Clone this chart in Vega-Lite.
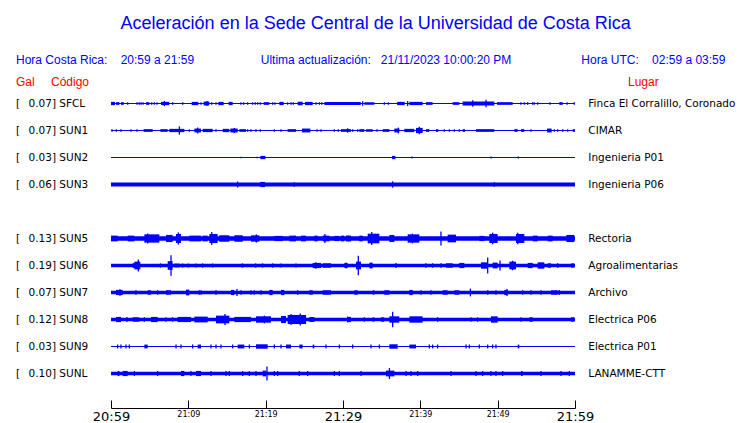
{
"$schema": "https://vega.github.io/schema/vega-lite/v6.json",
"padding": {"left": 15, "top": 14, "right": 0, "bottom": 0},
"background": "white",
"title": {
  "text": "Aceleración en la Sede Central de la Universidad de Costa Rica",
  "subtitle": "Hora Costa Rica:\u00a0\u00a0\u00a0\u00a020:59 a 21:59\u00a0\u00a0\u00a0\u00a0\u00a0\u00a0\u00a0\u00a0\u00a0\u00a0\u00a0\u00a0\u00a0\u00a0\u00a0\u00a0\u00a0\u00a0\u00a0\u00a0Ultima actualización:\u00a0\u00a0\u00a021/11/2023 10:00:20 PM\u00a0\u00a0\u00a0\u00a0\u00a0\u00a0\u00a0\u00a0\u00a0\u00a0\u00a0\u00a0\u00a0\u00a0\u00a0\u00a0\u00a0\u00a0\u00a0\u00a0\u00a0Hora UTC:\u00a0\u00a0\u00a0\u00a002:59 a 03:59\u00a0\u00a0\u00a0\u200b",
  "anchor": "middle",
  "frame": "bounds",
  "font": "Liberation Sans",
  "fontSize": 18,
  "fontWeight": "normal",
  "color": "#0000ff",
  "subtitleFont": "Liberation Sans",
  "subtitleFontSize": 12,
  "subtitleColor": "#0000ff",
  "subtitlePadding": 22,
  "offset": 10
},
"data": {"values": [
{"k":"s","c":"SFCL","gal":0.07,"place":"Finca El Corralillo, Coronado","lo":-0.6,"hi":0.6},
{"k":"s","c":"SUN1","gal":0.07,"place":"CIMAR","lo":-0.6,"hi":0.6},
{"k":"s","c":"SUN2","gal":0.03,"place":"Ingenieria P01","lo":-0.5,"hi":0.5},
{"k":"s","c":"SUN3","gal":0.06,"place":"Ingenieria P06","lo":-2,"hi":2},
{"k":"g","c":"SUN4"},
{"k":"s","c":"SUN5","gal":0.13,"place":"Rectoria","lo":-2.4,"hi":2.4},
{"k":"s","c":"SUN6","gal":0.19,"place":"Agroalimentarias","lo":-1.8,"hi":1.8},
{"k":"s","c":"SUN7","gal":0.07,"place":"Archivo","lo":-1.9,"hi":1.9},
{"k":"s","c":"SUN8","gal":0.12,"place":"Electrica P06","lo":-1.9,"hi":1.9},
{"k":"s","c":"SUN9","gal":0.03,"place":"Electrica P01","lo":-0.6,"hi":0.6},
{"k":"s","c":"SUNL","gal":0.10,"place":"LANAMME-CTT","lo":-1.9,"hi":1.9},

{"k":"b","c":"SFCL","t0":0,"t1":0.52,"lo":-1.7,"hi":1.7},
{"k":"b","c":"SFCL","t0":0.65,"t1":1.08,"lo":-1.4,"hi":1.4},
{"k":"b","c":"SFCL","t0":1.29,"t1":1.64,"lo":-1.4,"hi":1.4},
{"k":"b","c":"SFCL","t0":4.53,"t1":4.96,"lo":-1.4,"hi":1.4},
{"k":"b","c":"SFCL","t0":6.47,"t1":7.54,"lo":-1.7,"hi":1.7},
{"k":"b","c":"SFCL","t0":10.43,"t1":11.29,"lo":-1.7,"hi":1.7},
{"k":"b","c":"SFCL","t0":11.98,"t1":12.72,"lo":-2,"hi":2},
{"k":"b","c":"SFCL","t0":13.88,"t1":14.57,"lo":-1.7,"hi":1.7},
{"k":"b","c":"SFCL","t0":15.22,"t1":15.73,"lo":-1.7,"hi":1.7},
{"k":"b","c":"SFCL","t0":19.74,"t1":20.47,"lo":-1.4,"hi":1.4},
{"k":"b","c":"SFCL","t0":21.77,"t1":22.33,"lo":-1.7,"hi":1.7},
{"k":"b","c":"SFCL","t0":24.14,"t1":24.78,"lo":-1.7,"hi":1.7},
{"k":"b","c":"SFCL","t0":25.09,"t1":26.08,"lo":-1.7,"hi":1.7},
{"k":"b","c":"SFCL","t0":27.6,"t1":32.3,"lo":-1.6,"hi":1.6},
{"k":"b","c":"SFCL","t0":32.76,"t1":34.05,"lo":-1.4,"hi":1.4},
{"k":"b","c":"SFCL","t0":37.0,"t1":37.97,"lo":-1.7,"hi":1.7},
{"k":"b","c":"SFCL","t0":38.58,"t1":40.3,"lo":-1.7,"hi":1.7},
{"k":"b","c":"SFCL","t0":40.73,"t1":41.59,"lo":-1.4,"hi":1.4},
{"k":"b","c":"SFCL","t0":44.18,"t1":45.04,"lo":-1.4,"hi":1.4},
{"k":"b","c":"SFCL","t0":45.47,"t1":49.57,"lo":-2,"hi":2},
{"k":"b","c":"SFCL","t0":49.91,"t1":51.94,"lo":-1.4,"hi":1.4},
{"k":"b","c":"SFCL","t0":57.97,"t1":58.41,"lo":-1.4,"hi":1.4},
{"k":"r","c":"SFCL","t":2.16,"lo":-1.3,"hi":1.3},
{"k":"r","c":"SFCL","t":3.36,"lo":-1.3,"hi":1.3},
{"k":"r","c":"SFCL","t":3.66,"lo":-1.3,"hi":1.3},
{"k":"r","c":"SFCL","t":3.88,"lo":-1.3,"hi":1.3},
{"k":"r","c":"SFCL","t":4.14,"lo":-1.3,"hi":1.3},
{"k":"r","c":"SFCL","t":5.26,"lo":-1.3,"hi":1.3},
{"k":"r","c":"SFCL","t":5.6,"lo":-1.3,"hi":1.3},
{"k":"r","c":"SFCL","t":5.95,"lo":-1.3,"hi":1.3},
{"k":"r","c":"SFCL","t":6.9,"lo":-2.7,"hi":2.7},
{"k":"r","c":"SFCL","t":7.97,"lo":-1.3,"hi":1.3},
{"k":"r","c":"SFCL","t":9.27,"lo":-1.3,"hi":1.3},
{"k":"r","c":"SFCL","t":11.64,"lo":-1.3,"hi":1.3},
{"k":"r","c":"SFCL","t":12.41,"lo":-2.7,"hi":2.7},
{"k":"r","c":"SFCL","t":13.02,"lo":-1.3,"hi":1.3},
{"k":"r","c":"SFCL","t":13.58,"lo":-1.3,"hi":1.3},
{"k":"r","c":"SFCL","t":16.81,"lo":-1.3,"hi":1.3},
{"k":"r","c":"SFCL","t":17.16,"lo":-1.3,"hi":1.3},
{"k":"r","c":"SFCL","t":17.67,"lo":-1.3,"hi":1.3},
{"k":"r","c":"SFCL","t":18.32,"lo":-1.3,"hi":1.3},
{"k":"r","c":"SFCL","t":18.66,"lo":-1.3,"hi":1.3},
{"k":"r","c":"SFCL","t":18.97,"lo":-1.3,"hi":1.3},
{"k":"r","c":"SFCL","t":19.31,"lo":-1.3,"hi":1.3},
{"k":"r","c":"SFCL","t":20.9,"lo":-1.3,"hi":1.3},
{"k":"r","c":"SFCL","t":21.2,"lo":-1.3,"hi":1.3},
{"k":"r","c":"SFCL","t":22.84,"lo":-1.3,"hi":1.3},
{"k":"r","c":"SFCL","t":23.28,"lo":-1.3,"hi":1.3},
{"k":"r","c":"SFCL","t":23.58,"lo":-1.3,"hi":1.3},
{"k":"r","c":"SFCL","t":26.51,"lo":-1.3,"hi":1.3},
{"k":"r","c":"SFCL","t":26.94,"lo":-1.3,"hi":1.3},
{"k":"r","c":"SFCL","t":27.24,"lo":-1.3,"hi":1.3},
{"k":"r","c":"SFCL","t":32.54,"lo":-2.3,"hi":2.3},
{"k":"r","c":"SFCL","t":35.34,"lo":-1.3,"hi":1.3},
{"k":"r","c":"SFCL","t":35.86,"lo":-1.3,"hi":1.3},
{"k":"r","c":"SFCL","t":38.36,"lo":-2.7,"hi":2.7},
{"k":"r","c":"SFCL","t":46.77,"lo":-3.3,"hi":3.3},
{"k":"r","c":"SFCL","t":48.5,"lo":-4,"hi":4},
{"k":"r","c":"SFCL","t":53.0,"lo":-1.3,"hi":1.3},
{"k":"r","c":"SFCL","t":53.45,"lo":-1.3,"hi":1.3},
{"k":"r","c":"SFCL","t":53.88,"lo":-1.3,"hi":1.3},
{"k":"r","c":"SFCL","t":54.53,"lo":-1.3,"hi":1.3},
{"k":"r","c":"SFCL","t":54.74,"lo":-1.3,"hi":1.3},
{"k":"r","c":"SFCL","t":55.17,"lo":-1.3,"hi":1.3},
{"k":"r","c":"SFCL","t":56.77,"lo":-1.3,"hi":1.3},
{"k":"r","c":"SFCL","t":58.97,"lo":-1.3,"hi":1.3},
{"k":"r","c":"SFCL","t":59.91,"lo":-1.3,"hi":1.3},

{"k":"b","c":"SUN1","t0":4.22,"t1":5.39,"lo":-1.4,"hi":1.4},
{"k":"b","c":"SUN1","t0":6.38,"t1":7.33,"lo":-1.4,"hi":1.4},
{"k":"b","c":"SUN1","t0":7.54,"t1":9.48,"lo":-1.7,"hi":1.7},
{"k":"b","c":"SUN1","t0":10.78,"t1":11.64,"lo":-2,"hi":2},
{"k":"b","c":"SUN1","t0":11.85,"t1":13.15,"lo":-1.7,"hi":1.7},
{"k":"b","c":"SUN1","t0":14.44,"t1":15.3,"lo":-1.7,"hi":1.7},
{"k":"b","c":"SUN1","t0":15.43,"t1":16.38,"lo":-2,"hi":2},
{"k":"b","c":"SUN1","t0":16.6,"t1":17.46,"lo":-1.4,"hi":1.4},
{"k":"b","c":"SUN1","t0":22.84,"t1":23.92,"lo":-1.4,"hi":1.4},
{"k":"b","c":"SUN1","t0":24.7,"t1":25.78,"lo":-2,"hi":2},
{"k":"b","c":"SUN1","t0":29.74,"t1":31.03,"lo":-1.4,"hi":1.4},
{"k":"b","c":"SUN1","t0":32.11,"t1":32.76,"lo":-1.4,"hi":1.4},
{"k":"b","c":"SUN1","t0":32.97,"t1":33.84,"lo":-1.4,"hi":1.4},
{"k":"b","c":"SUN1","t0":35.13,"t1":36.0,"lo":-1.4,"hi":1.4},
{"k":"b","c":"SUN1","t0":36.64,"t1":37.29,"lo":-2,"hi":2},
{"k":"b","c":"SUN1","t0":37.93,"t1":39.22,"lo":-1.7,"hi":1.7},
{"k":"b","c":"SUN1","t0":39.44,"t1":40.3,"lo":-2.7,"hi":2.7},
{"k":"b","c":"SUN1","t0":40.73,"t1":41.16,"lo":-1.4,"hi":1.4},
{"k":"b","c":"SUN1","t0":42.03,"t1":42.33,"lo":-1.4,"hi":1.4},
{"k":"b","c":"SUN1","t0":45.47,"t1":45.78,"lo":-1.4,"hi":1.4},
{"k":"b","c":"SUN1","t0":47.2,"t1":49.57,"lo":-1.4,"hi":1.4},
{"k":"b","c":"SUN1","t0":52.16,"t1":52.59,"lo":-1.4,"hi":1.4},
{"k":"b","c":"SUN1","t0":53.02,"t1":53.45,"lo":-1.4,"hi":1.4},
{"k":"b","c":"SUN1","t0":56.38,"t1":56.98,"lo":-2,"hi":2},
{"k":"b","c":"SUN1","t0":59.7,"t1":60,"lo":-1.4,"hi":1.4},
{"k":"r","c":"SUN1","t":0.13,"lo":-1.3,"hi":1.3},
{"k":"r","c":"SUN1","t":0.69,"lo":-1.3,"hi":1.3},
{"k":"r","c":"SUN1","t":1.29,"lo":-1.3,"hi":1.3},
{"k":"r","c":"SUN1","t":2.59,"lo":-1.3,"hi":1.3},
{"k":"r","c":"SUN1","t":3.36,"lo":-1.3,"hi":1.3},
{"k":"r","c":"SUN1","t":8.84,"lo":-4.3,"hi":4.3},
{"k":"r","c":"SUN1","t":10.13,"lo":-1.3,"hi":1.3},
{"k":"r","c":"SUN1","t":11.21,"lo":-3,"hi":3},
{"k":"r","c":"SUN1","t":13.58,"lo":-1.3,"hi":1.3},
{"k":"r","c":"SUN1","t":15.95,"lo":-2.7,"hi":2.7},
{"k":"r","c":"SUN1","t":17.67,"lo":-1.3,"hi":1.3},
{"k":"r","c":"SUN1","t":18.1,"lo":-1.3,"hi":1.3},
{"k":"r","c":"SUN1","t":18.75,"lo":-1.3,"hi":1.3},
{"k":"r","c":"SUN1","t":19.31,"lo":-1.3,"hi":1.3},
{"k":"r","c":"SUN1","t":21.12,"lo":-1.3,"hi":1.3},
{"k":"r","c":"SUN1","t":21.98,"lo":-1.3,"hi":1.3},
{"k":"r","c":"SUN1","t":26.64,"lo":-1.3,"hi":1.3},
{"k":"r","c":"SUN1","t":27.16,"lo":-1.3,"hi":1.3},
{"k":"r","c":"SUN1","t":28.88,"lo":-1.3,"hi":1.3},
{"k":"r","c":"SUN1","t":29.4,"lo":-1.3,"hi":1.3},
{"k":"r","c":"SUN1","t":30.6,"lo":-2.3,"hi":2.3},
{"k":"r","c":"SUN1","t":31.25,"lo":-1.3,"hi":1.3},
{"k":"r","c":"SUN1","t":31.9,"lo":-1.3,"hi":1.3},
{"k":"r","c":"SUN1","t":34.4,"lo":-1.3,"hi":1.3},
{"k":"r","c":"SUN1","t":37.16,"lo":-3,"hi":3},
{"k":"r","c":"SUN1","t":39.87,"lo":-4,"hi":4},
{"k":"r","c":"SUN1","t":43.1,"lo":-1.3,"hi":1.3},
{"k":"r","c":"SUN1","t":43.75,"lo":-1.3,"hi":1.3},
{"k":"r","c":"SUN1","t":44.4,"lo":-1.3,"hi":1.3},
{"k":"r","c":"SUN1","t":45.04,"lo":-1.3,"hi":1.3},
{"k":"r","c":"SUN1","t":54.31,"lo":-1.3,"hi":1.3},
{"k":"r","c":"SUN1","t":57.33,"lo":-1.3,"hi":1.3},
{"k":"r","c":"SUN1","t":57.76,"lo":-1.3,"hi":1.3},
{"k":"r","c":"SUN1","t":58.41,"lo":-1.3,"hi":1.3},
{"k":"r","c":"SUN1","t":59.05,"lo":-1.3,"hi":1.3},

{"k":"b","c":"SUN2","t0":19.31,"t1":19.96,"lo":-1.7,"hi":1.7},
{"k":"b","c":"SUN2","t0":36.34,"t1":36.77,"lo":-1.7,"hi":1.7},
{"k":"r","c":"SUN2","t":16.81,"lo":-0.9,"hi":0.9},
{"k":"r","c":"SUN2","t":18.88,"lo":-0.9,"hi":0.9},
{"k":"r","c":"SUN2","t":38.92,"lo":-1,"hi":1},
{"k":"r","c":"SUN2","t":49.14,"lo":-1,"hi":1},
{"k":"r","c":"SUN2","t":52.67,"lo":-1,"hi":1},

{"k":"b","c":"SUN3","t0":19.31,"t1":19.91,"lo":-2.7,"hi":2.7},
{"k":"r","c":"SUN3","t":16.38,"lo":-3,"hi":3},
{"k":"r","c":"SUN3","t":23.7,"lo":-2.3,"hi":2.3},
{"k":"r","c":"SUN3","t":36.42,"lo":-3.3,"hi":3.3},
{"k":"r","c":"SUN3","t":49.57,"lo":-2.3,"hi":2.3},

{"k":"b","c":"SUN5","t0":0,"t1":0.86,"lo":-3,"hi":3},
{"k":"b","c":"SUN5","t0":2.16,"t1":3.02,"lo":-3,"hi":3},
{"k":"b","c":"SUN5","t0":4.31,"t1":6.25,"lo":-4.3,"hi":4.3},
{"k":"b","c":"SUN5","t0":7.11,"t1":7.97,"lo":-3.7,"hi":3.7},
{"k":"b","c":"SUN5","t0":8.4,"t1":9.05,"lo":-4.7,"hi":4.7},
{"k":"b","c":"SUN5","t0":10.13,"t1":11.64,"lo":-3,"hi":3},
{"k":"b","c":"SUN5","t0":11.85,"t1":12.5,"lo":-3,"hi":3},
{"k":"b","c":"SUN5","t0":12.72,"t1":13.79,"lo":-4.7,"hi":4.7},
{"k":"b","c":"SUN5","t0":14.0,"t1":15.3,"lo":-3.3,"hi":3.3},
{"k":"b","c":"SUN5","t0":15.95,"t1":17.03,"lo":-3.3,"hi":3.3},
{"k":"b","c":"SUN5","t0":18.1,"t1":19.18,"lo":-3.3,"hi":3.3},
{"k":"b","c":"SUN5","t0":21.12,"t1":22.2,"lo":-2.7,"hi":2.7},
{"k":"b","c":"SUN5","t0":23.06,"t1":23.92,"lo":-3,"hi":3},
{"k":"b","c":"SUN5","t0":24.57,"t1":25.22,"lo":-3,"hi":3},
{"k":"b","c":"SUN5","t0":26.29,"t1":26.72,"lo":-3,"hi":3},
{"k":"b","c":"SUN5","t0":27.37,"t1":28.23,"lo":-3,"hi":3},
{"k":"b","c":"SUN5","t0":28.88,"t1":29.53,"lo":-2.7,"hi":2.7},
{"k":"b","c":"SUN5","t0":29.74,"t1":30.17,"lo":-3,"hi":3},
{"k":"b","c":"SUN5","t0":30.39,"t1":31.03,"lo":-3,"hi":3},
{"k":"b","c":"SUN5","t0":32.11,"t1":32.54,"lo":-3,"hi":3},
{"k":"b","c":"SUN5","t0":33.19,"t1":34.7,"lo":-5,"hi":5},
{"k":"b","c":"SUN5","t0":36.0,"t1":36.64,"lo":-3.7,"hi":3.7},
{"k":"b","c":"SUN5","t0":38.36,"t1":39.87,"lo":-4.3,"hi":4.3},
{"k":"b","c":"SUN5","t0":43.53,"t1":44.61,"lo":-4,"hi":4},
{"k":"b","c":"SUN5","t0":47.63,"t1":48.28,"lo":-2.7,"hi":2.7},
{"k":"b","c":"SUN5","t0":48.92,"t1":50.0,"lo":-4.7,"hi":4.7},
{"k":"b","c":"SUN5","t0":52.37,"t1":53.45,"lo":-4.7,"hi":4.7},
{"k":"b","c":"SUN5","t0":54.53,"t1":55.17,"lo":-3,"hi":3},
{"k":"b","c":"SUN5","t0":56.47,"t1":57.11,"lo":-3,"hi":3},
{"k":"b","c":"SUN5","t0":58.88,"t1":59.91,"lo":-3.7,"hi":3.7},
{"k":"r","c":"SUN5","t":4.74,"lo":-5.3,"hi":5.3},
{"k":"r","c":"SUN5","t":8.71,"lo":-6.3,"hi":6.3},
{"k":"r","c":"SUN5","t":13.02,"lo":-6.7,"hi":6.7},
{"k":"r","c":"SUN5","t":18.8,"lo":-4.3,"hi":4.3},
{"k":"r","c":"SUN5","t":27.66,"lo":-4.7,"hi":4.7},
{"k":"r","c":"SUN5","t":33.71,"lo":-6.7,"hi":6.7},
{"k":"r","c":"SUN5","t":38.97,"lo":-5,"hi":5},
{"k":"r","c":"SUN5","t":42.67,"lo":-7.3,"hi":7.3},
{"k":"r","c":"SUN5","t":49.35,"lo":-6,"hi":6},
{"k":"r","c":"SUN5","t":52.59,"lo":-6,"hi":6},

{"k":"b","c":"SUN6","t0":2.8,"t1":3.02,"lo":-2.7,"hi":2.7},
{"k":"b","c":"SUN6","t0":3.02,"t1":3.79,"lo":-4,"hi":4},
{"k":"b","c":"SUN6","t0":7.33,"t1":7.97,"lo":-4.5,"hi":4.5},
{"k":"b","c":"SUN6","t0":8.19,"t1":8.84,"lo":-2,"hi":2},
{"k":"b","c":"SUN6","t0":26.08,"t1":27.16,"lo":-2.7,"hi":2.7},
{"k":"b","c":"SUN6","t0":27.37,"t1":28.45,"lo":-2.3,"hi":2.3},
{"k":"b","c":"SUN6","t0":30.17,"t1":30.6,"lo":-2.5,"hi":2.5},
{"k":"b","c":"SUN6","t0":31.68,"t1":32.33,"lo":-4,"hi":4},
{"k":"b","c":"SUN6","t0":33.41,"t1":33.84,"lo":-3,"hi":3},
{"k":"b","c":"SUN6","t0":43.32,"t1":44.18,"lo":-2.3,"hi":2.3},
{"k":"b","c":"SUN6","t0":45.04,"t1":45.69,"lo":-2.7,"hi":2.7},
{"k":"b","c":"SUN6","t0":47.84,"t1":48.71,"lo":-3.3,"hi":3.3},
{"k":"b","c":"SUN6","t0":49.35,"t1":50.0,"lo":-3,"hi":3},
{"k":"b","c":"SUN6","t0":51.51,"t1":52.37,"lo":-4,"hi":4},
{"k":"b","c":"SUN6","t0":53.88,"t1":54.53,"lo":-2.7,"hi":2.7},
{"k":"b","c":"SUN6","t0":55.17,"t1":56.03,"lo":-3.3,"hi":3.3},
{"k":"b","c":"SUN6","t0":56.47,"t1":56.9,"lo":-2.3,"hi":2.3},
{"k":"b","c":"SUN6","t0":59.48,"t1":59.91,"lo":-2.2,"hi":2.2},
{"k":"r","c":"SUN6","t":3.53,"lo":-6.3,"hi":6.3},
{"k":"r","c":"SUN6","t":6.4,"lo":-2.2,"hi":2.2},
{"k":"r","c":"SUN6","t":7.76,"lo":-10.7,"hi":10.7},
{"k":"r","c":"SUN6","t":9.27,"lo":-2.2,"hi":2.2},
{"k":"r","c":"SUN6","t":10.0,"lo":-2.2,"hi":2.2},
{"k":"r","c":"SUN6","t":10.99,"lo":-2.2,"hi":2.2},
{"k":"r","c":"SUN6","t":11.85,"lo":-2.2,"hi":2.2},
{"k":"r","c":"SUN6","t":13.15,"lo":-2.2,"hi":2.2},
{"k":"r","c":"SUN6","t":17.0,"lo":-2.2,"hi":2.2},
{"k":"r","c":"SUN6","t":18.7,"lo":-2.2,"hi":2.2},
{"k":"r","c":"SUN6","t":19.6,"lo":-2.2,"hi":2.2},
{"k":"r","c":"SUN6","t":20.9,"lo":-2.2,"hi":2.2},
{"k":"r","c":"SUN6","t":21.98,"lo":-2.2,"hi":2.2},
{"k":"r","c":"SUN6","t":23.92,"lo":-2.2,"hi":2.2},
{"k":"r","c":"SUN6","t":26.5,"lo":-3.3,"hi":3.3},
{"k":"r","c":"SUN6","t":30.4,"lo":-3,"hi":3},
{"k":"r","c":"SUN6","t":31.98,"lo":-10,"hi":10},
{"k":"r","c":"SUN6","t":36.85,"lo":-2.7,"hi":2.7},
{"k":"r","c":"SUN6","t":40.73,"lo":-2.3,"hi":2.3},
{"k":"r","c":"SUN6","t":41.59,"lo":-2.3,"hi":2.3},
{"k":"r","c":"SUN6","t":42.67,"lo":-2.3,"hi":2.3},
{"k":"r","c":"SUN6","t":48.71,"lo":-8.3,"hi":8.3},
{"k":"r","c":"SUN6","t":50.3,"lo":-5.3,"hi":5.3},
{"k":"r","c":"SUN6","t":51.94,"lo":-5,"hi":5},
{"k":"r","c":"SUN6","t":57.76,"lo":-2.3,"hi":2.3},

{"k":"b","c":"SUN7","t0":0.65,"t1":1.51,"lo":-2.7,"hi":2.7},
{"k":"b","c":"SUN7","t0":4.74,"t1":5.17,"lo":-2.3,"hi":2.3},
{"k":"b","c":"SUN7","t0":7.11,"t1":7.76,"lo":-2.3,"hi":2.3},
{"k":"b","c":"SUN7","t0":9.7,"t1":10.13,"lo":-3,"hi":3},
{"k":"b","c":"SUN7","t0":15.52,"t1":15.95,"lo":-2.7,"hi":2.7},
{"k":"b","c":"SUN7","t0":20.47,"t1":20.9,"lo":-2.7,"hi":2.7},
{"k":"b","c":"SUN7","t0":21.98,"t1":22.41,"lo":-2.7,"hi":2.7},
{"k":"b","c":"SUN7","t0":25.65,"t1":26.08,"lo":-2.3,"hi":2.3},
{"k":"b","c":"SUN7","t0":27.37,"t1":28.45,"lo":-2.3,"hi":2.3},
{"k":"b","c":"SUN7","t0":31.47,"t1":31.9,"lo":-2.3,"hi":2.3},
{"k":"b","c":"SUN7","t0":33.84,"t1":34.05,"lo":-2.3,"hi":2.3},
{"k":"b","c":"SUN7","t0":35.34,"t1":35.99,"lo":-2.3,"hi":2.3},
{"k":"b","c":"SUN7","t0":38.58,"t1":39.01,"lo":-2.7,"hi":2.7},
{"k":"b","c":"SUN7","t0":42.89,"t1":43.53,"lo":-2.3,"hi":2.3},
{"k":"b","c":"SUN7","t0":44.4,"t1":45.04,"lo":-2.3,"hi":2.3},
{"k":"b","c":"SUN7","t0":50.86,"t1":51.29,"lo":-2.7,"hi":2.7},
{"k":"b","c":"SUN7","t0":56.9,"t1":57.76,"lo":-2.3,"hi":2.3},
{"k":"r","c":"SUN7","t":1.16,"lo":-3.3,"hi":3.3},
{"k":"r","c":"SUN7","t":3.23,"lo":-2.3,"hi":2.3},
{"k":"r","c":"SUN7","t":6.03,"lo":-2.3,"hi":2.3},
{"k":"r","c":"SUN7","t":11.42,"lo":-2.3,"hi":2.3},
{"k":"r","c":"SUN7","t":11.64,"lo":-2.3,"hi":2.3},
{"k":"r","c":"SUN7","t":13.58,"lo":-2.3,"hi":2.3},
{"k":"r","c":"SUN7","t":16.29,"lo":-3.7,"hi":3.7},
{"k":"r","c":"SUN7","t":16.81,"lo":-2.3,"hi":2.3},
{"k":"r","c":"SUN7","t":18.1,"lo":-2.3,"hi":2.3},
{"k":"r","c":"SUN7","t":18.53,"lo":-2.3,"hi":2.3},
{"k":"r","c":"SUN7","t":19.4,"lo":-2.3,"hi":2.3},
{"k":"r","c":"SUN7","t":24.14,"lo":-2.3,"hi":2.3},
{"k":"r","c":"SUN7","t":40.09,"lo":-2.3,"hi":2.3},
{"k":"r","c":"SUN7","t":41.38,"lo":-2.3,"hi":2.3},
{"k":"r","c":"SUN7","t":46.47,"lo":-4,"hi":4},
{"k":"r","c":"SUN7","t":48.71,"lo":-2.3,"hi":2.3},
{"k":"r","c":"SUN7","t":49.78,"lo":-2.3,"hi":2.3},
{"k":"r","c":"SUN7","t":51.21,"lo":-3.7,"hi":3.7},
{"k":"r","c":"SUN7","t":53.23,"lo":-2.3,"hi":2.3},
{"k":"r","c":"SUN7","t":54.31,"lo":-2.3,"hi":2.3},
{"k":"r","c":"SUN7","t":55.6,"lo":-2.3,"hi":2.3},
{"k":"r","c":"SUN7","t":57.97,"lo":-2.7,"hi":2.7},

{"k":"b","c":"SUN8","t0":0.65,"t1":1.29,"lo":-2.7,"hi":2.7},
{"k":"b","c":"SUN8","t0":1.94,"t1":2.16,"lo":-2.3,"hi":2.3},
{"k":"b","c":"SUN8","t0":2.8,"t1":3.66,"lo":-2.3,"hi":2.3},
{"k":"b","c":"SUN8","t0":5.17,"t1":6.03,"lo":-2.7,"hi":2.7},
{"k":"b","c":"SUN8","t0":8.62,"t1":10.34,"lo":-2.7,"hi":2.7},
{"k":"b","c":"SUN8","t0":10.78,"t1":12.5,"lo":-3,"hi":3},
{"k":"b","c":"SUN8","t0":13.58,"t1":15.3,"lo":-4,"hi":4},
{"k":"b","c":"SUN8","t0":15.95,"t1":18.1,"lo":-2.7,"hi":2.7},
{"k":"b","c":"SUN8","t0":18.75,"t1":20.69,"lo":-3.3,"hi":3.3},
{"k":"b","c":"SUN8","t0":21.98,"t1":22.63,"lo":-3.7,"hi":3.7},
{"k":"b","c":"SUN8","t0":22.84,"t1":25.22,"lo":-4.7,"hi":4.7},
{"k":"b","c":"SUN8","t0":25.65,"t1":26.29,"lo":-2.7,"hi":2.7},
{"k":"b","c":"SUN8","t0":30.6,"t1":31.03,"lo":-2.7,"hi":2.7},
{"k":"b","c":"SUN8","t0":33.84,"t1":34.05,"lo":-2.3,"hi":2.3},
{"k":"b","c":"SUN8","t0":34.91,"t1":35.34,"lo":-2.3,"hi":2.3},
{"k":"b","c":"SUN8","t0":35.99,"t1":37.28,"lo":-3.3,"hi":3.3},
{"k":"b","c":"SUN8","t0":38.58,"t1":40.3,"lo":-3.3,"hi":3.3},
{"k":"b","c":"SUN8","t0":49.14,"t1":50.0,"lo":-3.3,"hi":3.3},
{"k":"b","c":"SUN8","t0":54.1,"t1":54.53,"lo":-2.3,"hi":2.3},
{"k":"b","c":"SUN8","t0":59.48,"t1":59.91,"lo":-2.3,"hi":2.3},
{"k":"r","c":"SUN8","t":4.31,"lo":-2.3,"hi":2.3},
{"k":"r","c":"SUN8","t":7.11,"lo":-2.3,"hi":2.3},
{"k":"r","c":"SUN8","t":7.97,"lo":-2.3,"hi":2.3},
{"k":"r","c":"SUN8","t":14.74,"lo":-5.7,"hi":5.7},
{"k":"r","c":"SUN8","t":19.83,"lo":-4,"hi":4},
{"k":"r","c":"SUN8","t":23.28,"lo":-5.7,"hi":5.7},
{"k":"r","c":"SUN8","t":24.48,"lo":-6.3,"hi":6.3},
{"k":"r","c":"SUN8","t":30.6,"lo":-3,"hi":3},
{"k":"r","c":"SUN8","t":32.76,"lo":-2.3,"hi":2.3},
{"k":"r","c":"SUN8","t":36.42,"lo":-8,"hi":8},
{"k":"r","c":"SUN8","t":42.24,"lo":-2.3,"hi":2.3},
{"k":"r","c":"SUN8","t":46.55,"lo":-2.3,"hi":2.3},
{"k":"r","c":"SUN8","t":47.41,"lo":-2.3,"hi":2.3},
{"k":"r","c":"SUN8","t":53.02,"lo":-2.3,"hi":2.3},

{"k":"b","c":"SUN9","t0":4.31,"t1":4.74,"lo":-2,"hi":2},
{"k":"b","c":"SUN9","t0":11.21,"t1":11.64,"lo":-2,"hi":2},
{"k":"b","c":"SUN9","t0":16.38,"t1":17.24,"lo":-2,"hi":2},
{"k":"b","c":"SUN9","t0":18.75,"t1":20.26,"lo":-2.3,"hi":2.3},
{"k":"b","c":"SUN9","t0":22.63,"t1":23.28,"lo":-2,"hi":2},
{"k":"b","c":"SUN9","t0":24.35,"t1":24.78,"lo":-2,"hi":2},
{"k":"b","c":"SUN9","t0":26.08,"t1":26.29,"lo":-2,"hi":2},
{"k":"b","c":"SUN9","t0":35.99,"t1":37.07,"lo":-2.3,"hi":2.3},
{"k":"b","c":"SUN9","t0":38.58,"t1":39.44,"lo":-2,"hi":2},
{"k":"b","c":"SUN9","t0":52.59,"t1":52.8,"lo":-2,"hi":2},
{"k":"r","c":"SUN9","t":0.86,"lo":-2,"hi":2},
{"k":"r","c":"SUN9","t":1.29,"lo":-2,"hi":2},
{"k":"r","c":"SUN9","t":1.94,"lo":-2,"hi":2},
{"k":"r","c":"SUN9","t":2.37,"lo":-2,"hi":2},
{"k":"r","c":"SUN9","t":8.41,"lo":-2,"hi":2},
{"k":"r","c":"SUN9","t":9.05,"lo":-2,"hi":2},
{"k":"r","c":"SUN9","t":10.56,"lo":-2,"hi":2},
{"k":"r","c":"SUN9","t":12.93,"lo":-2,"hi":2},
{"k":"r","c":"SUN9","t":13.58,"lo":-2,"hi":2},
{"k":"r","c":"SUN9","t":14.22,"lo":-2,"hi":2},
{"k":"r","c":"SUN9","t":15.73,"lo":-2,"hi":2},
{"k":"r","c":"SUN9","t":17.89,"lo":-2,"hi":2},
{"k":"r","c":"SUN9","t":21.12,"lo":-2,"hi":2},
{"k":"r","c":"SUN9","t":21.98,"lo":-2,"hi":2},
{"k":"r","c":"SUN9","t":27.8,"lo":-2,"hi":2},
{"k":"r","c":"SUN9","t":29.53,"lo":-2,"hi":2},
{"k":"r","c":"SUN9","t":31.25,"lo":-2,"hi":2},
{"k":"r","c":"SUN9","t":33.62,"lo":-2,"hi":2},
{"k":"r","c":"SUN9","t":34.7,"lo":-2,"hi":2},
{"k":"r","c":"SUN9","t":41.16,"lo":-2,"hi":2},
{"k":"r","c":"SUN9","t":41.59,"lo":-2,"hi":2},
{"k":"r","c":"SUN9","t":42.24,"lo":-2,"hi":2},
{"k":"r","c":"SUN9","t":45.91,"lo":-2,"hi":2},
{"k":"r","c":"SUN9","t":46.34,"lo":-2,"hi":2},
{"k":"r","c":"SUN9","t":47.63,"lo":-2,"hi":2},
{"k":"r","c":"SUN9","t":48.71,"lo":-2,"hi":2},
{"k":"r","c":"SUN9","t":49.35,"lo":-2,"hi":2},
{"k":"r","c":"SUN9","t":49.78,"lo":-2,"hi":2},

{"k":"b","c":"SUNL","t0":0.86,"t1":1.08,"lo":-2.7,"hi":2.7},
{"k":"b","c":"SUNL","t0":1.51,"t1":2.16,"lo":-2.7,"hi":2.7},
{"k":"b","c":"SUNL","t0":9.05,"t1":9.48,"lo":-2.7,"hi":2.7},
{"k":"b","c":"SUNL","t0":10.99,"t1":11.64,"lo":-2.7,"hi":2.7},
{"k":"b","c":"SUNL","t0":19.61,"t1":20.04,"lo":-3,"hi":3},
{"k":"b","c":"SUNL","t0":35.56,"t1":36.64,"lo":-3,"hi":3},
{"k":"b","c":"SUNL","t0":53.02,"t1":53.23,"lo":-2.7,"hi":2.7},
{"k":"r","c":"SUNL","t":3.02,"lo":-2.7,"hi":2.7},
{"k":"r","c":"SUNL","t":6.03,"lo":-2.7,"hi":2.7},
{"k":"r","c":"SUNL","t":10.34,"lo":-2.7,"hi":2.7},
{"k":"r","c":"SUNL","t":12.93,"lo":-2.7,"hi":2.7},
{"k":"r","c":"SUNL","t":14.87,"lo":-2.7,"hi":2.7},
{"k":"r","c":"SUNL","t":15.3,"lo":-2.7,"hi":2.7},
{"k":"r","c":"SUNL","t":17.03,"lo":-2.7,"hi":2.7},
{"k":"r","c":"SUNL","t":17.89,"lo":-2.7,"hi":2.7},
{"k":"r","c":"SUNL","t":18.75,"lo":-2.7,"hi":2.7},
{"k":"r","c":"SUNL","t":20.17,"lo":-7.3,"hi":7.3},
{"k":"r","c":"SUNL","t":21.12,"lo":-2.7,"hi":2.7},
{"k":"r","c":"SUNL","t":21.55,"lo":-2.7,"hi":2.7},
{"k":"r","c":"SUNL","t":24.35,"lo":-2.7,"hi":2.7},
{"k":"r","c":"SUNL","t":25.43,"lo":-2.7,"hi":2.7},
{"k":"r","c":"SUNL","t":28.88,"lo":-2.7,"hi":2.7},
{"k":"r","c":"SUNL","t":29.53,"lo":-2.7,"hi":2.7},
{"k":"r","c":"SUNL","t":32.33,"lo":-2.7,"hi":2.7},
{"k":"r","c":"SUNL","t":36.0,"lo":-5.7,"hi":5.7},
{"k":"r","c":"SUNL","t":38.15,"lo":-2.7,"hi":2.7},
{"k":"r","c":"SUNL","t":38.79,"lo":-2.7,"hi":2.7},
{"k":"r","c":"SUNL","t":39.66,"lo":-2.7,"hi":2.7},
{"k":"r","c":"SUNL","t":43.97,"lo":-2.7,"hi":2.7},
{"k":"r","c":"SUNL","t":47.2,"lo":-2.7,"hi":2.7},
{"k":"r","c":"SUNL","t":48.06,"lo":-2.7,"hi":2.7},
{"k":"r","c":"SUNL","t":49.14,"lo":-2.7,"hi":2.7},
{"k":"r","c":"SUNL","t":49.78,"lo":-2.7,"hi":2.7},
{"k":"r","c":"SUNL","t":50.65,"lo":-2.7,"hi":2.7},
{"k":"r","c":"SUNL","t":55.6,"lo":-2.7,"hi":2.7},
{"k":"r","c":"SUNL","t":58.19,"lo":-2.7,"hi":2.7},
{"k":"r","c":"SUNL","t":59.27,"lo":-2.7,"hi":2.7}
]},
"facet": {"row": {"field": "c", "type": "nominal", "sort": ["SFCL","SUN1","SUN2","SUN3","SUN4","SUN5","SUN6","SUN7","SUN8","SUN9","SUNL"], "header": null}},
"spacing": {"row": 0},
"spec": {
  "width": 464,
  "height": 27,
  "layer": [
    {
      "transform": [{"filter": "datum.k == 's'"}],
      "mark": {"type": "rect", "color": "#0000ff", "strokeWidth": 0},
      "encoding": {
        "x": {"datum": 0, "type": "quantitative",
          "scale": {"domain": [0, 60], "nice": false, "zero": false},
          "axis": {"values": [0,5,10,15,20,25,30,35,40,45,50,55,60], "title": null, "grid": false,
            "domainColor": "#000000", "tickColor": "#000000", "tickSize": -8, "tickWidth": 1, "domainWidth": 1,
            "offset": 21, "labelFont": "DejaVu Sans", "labelColor": "#000000",
            "labelFontSize": {"condition": {"test": "datum.value % 30 == 0", "value": 13}, "value": 8},
            "labelPadding": 10, "labelFlush": false, "labelOverlap": false,
            "labelExpr": "datum.value % 10 ? '' : floor((1259 + datum.value) / 60) + ':' + format((1259 + datum.value) % 60, '02d')"}},
        "x2": {"datum": 60},
        "y": {"field": "lo", "type": "quantitative", "scale": {"domain": [-13.5, 13.5]}, "axis": null},
        "y2": {"field": "hi"}
      }
    },
    {
      "transform": [{"filter": "datum.k == 'b'"}],
      "mark": {"type": "rect", "color": "#0000ff", "strokeWidth": 0},
      "encoding": {
        "x": {"field": "t0", "type": "quantitative"},
        "x2": {"field": "t1"},
        "y": {"field": "lo", "type": "quantitative"},
        "y2": {"field": "hi"}
      }
    },
    {
      "transform": [{"filter": "datum.k == 'r'"}],
      "mark": {"type": "rule", "color": "#0000ff", "strokeWidth": 1.3},
      "encoding": {
        "x": {"field": "t", "type": "quantitative"},
        "y": {"field": "lo", "type": "quantitative"},
        "y2": {"field": "hi"}
      }
    },
    {
      "transform": [{"filter": "datum.k == 's'"}],
      "mark": {"type": "text", "align": "left", "baseline": "middle", "dx": -95, "font": "DejaVu Sans", "fontSize": 10.5, "color": "#000000"},
      "encoding": {"x": {"datum": 0, "type": "quantitative"}, "y": {"datum": 0, "type": "quantitative"}, "text": {"value": "["}}
    },
    {
      "transform": [{"filter": "datum.k == 's'"}],
      "mark": {"type": "text", "align": "right", "baseline": "middle", "dx": -59.1, "font": "DejaVu Sans", "fontSize": 10.5, "color": "#000000"},
      "encoding": {"x": {"datum": 0, "type": "quantitative"}, "y": {"datum": 0, "type": "quantitative"}, "text": {"field": "gal", "type": "quantitative", "format": ".2f"}}
    },
    {
      "transform": [{"filter": "datum.k == 's'"}],
      "mark": {"type": "text", "align": "left", "baseline": "middle", "dx": -59.1, "font": "DejaVu Sans", "fontSize": 10.5, "color": "#000000"},
      "encoding": {"x": {"datum": 0, "type": "quantitative"}, "y": {"datum": 0, "type": "quantitative"}, "text": {"value": "]"}}
    },
    {
      "transform": [{"filter": "datum.k == 's'"}],
      "mark": {"type": "text", "align": "left", "baseline": "middle", "dx": -51.7, "font": "DejaVu Sans", "fontSize": 10.5, "color": "#000000"},
      "encoding": {"x": {"datum": 0, "type": "quantitative"}, "y": {"datum": 0, "type": "quantitative"}, "text": {"field": "c", "type": "nominal"}}
    },
    {
      "transform": [{"filter": "datum.k == 's'"}],
      "mark": {"type": "text", "align": "left", "baseline": "middle", "dx": 13.3, "font": "DejaVu Sans", "fontSize": 10.5, "color": "#000000"},
      "encoding": {"x": {"datum": 60, "type": "quantitative"}, "y": {"datum": 0, "type": "quantitative"}, "text": {"field": "place", "type": "nominal"}}
    },
    {
      "transform": [{"filter": "datum.k == 's' && datum.c == 'SFCL'"}],
      "mark": {"type": "text", "align": "left", "baseline": "middle", "dx": -95, "dy": -22, "font": "Liberation Sans", "fontSize": 12, "color": "#ff0000"},
      "encoding": {"x": {"datum": 0, "type": "quantitative"}, "y": {"datum": 0, "type": "quantitative"}, "text": {"value": "Gal"}}
    },
    {
      "transform": [{"filter": "datum.k == 's' && datum.c == 'SFCL'"}],
      "mark": {"type": "text", "align": "left", "baseline": "middle", "dx": -60, "dy": -22, "font": "Liberation Sans", "fontSize": 12, "color": "#ff0000"},
      "encoding": {"x": {"datum": 0, "type": "quantitative"}, "y": {"datum": 0, "type": "quantitative"}, "text": {"value": "Código"}}
    },
    {
      "transform": [{"filter": "datum.k == 's' && datum.c == 'SFCL'"}],
      "mark": {"type": "text", "align": "left", "baseline": "middle", "dx": 53, "dy": -22, "font": "Liberation Sans", "fontSize": 12, "color": "#ff0000"},
      "encoding": {"x": {"datum": 60, "type": "quantitative"}, "y": {"datum": 0, "type": "quantitative"}, "text": {"value": "Lugar"}}
    }
  ]
},
"config": {"view": {"stroke": null}}
}
